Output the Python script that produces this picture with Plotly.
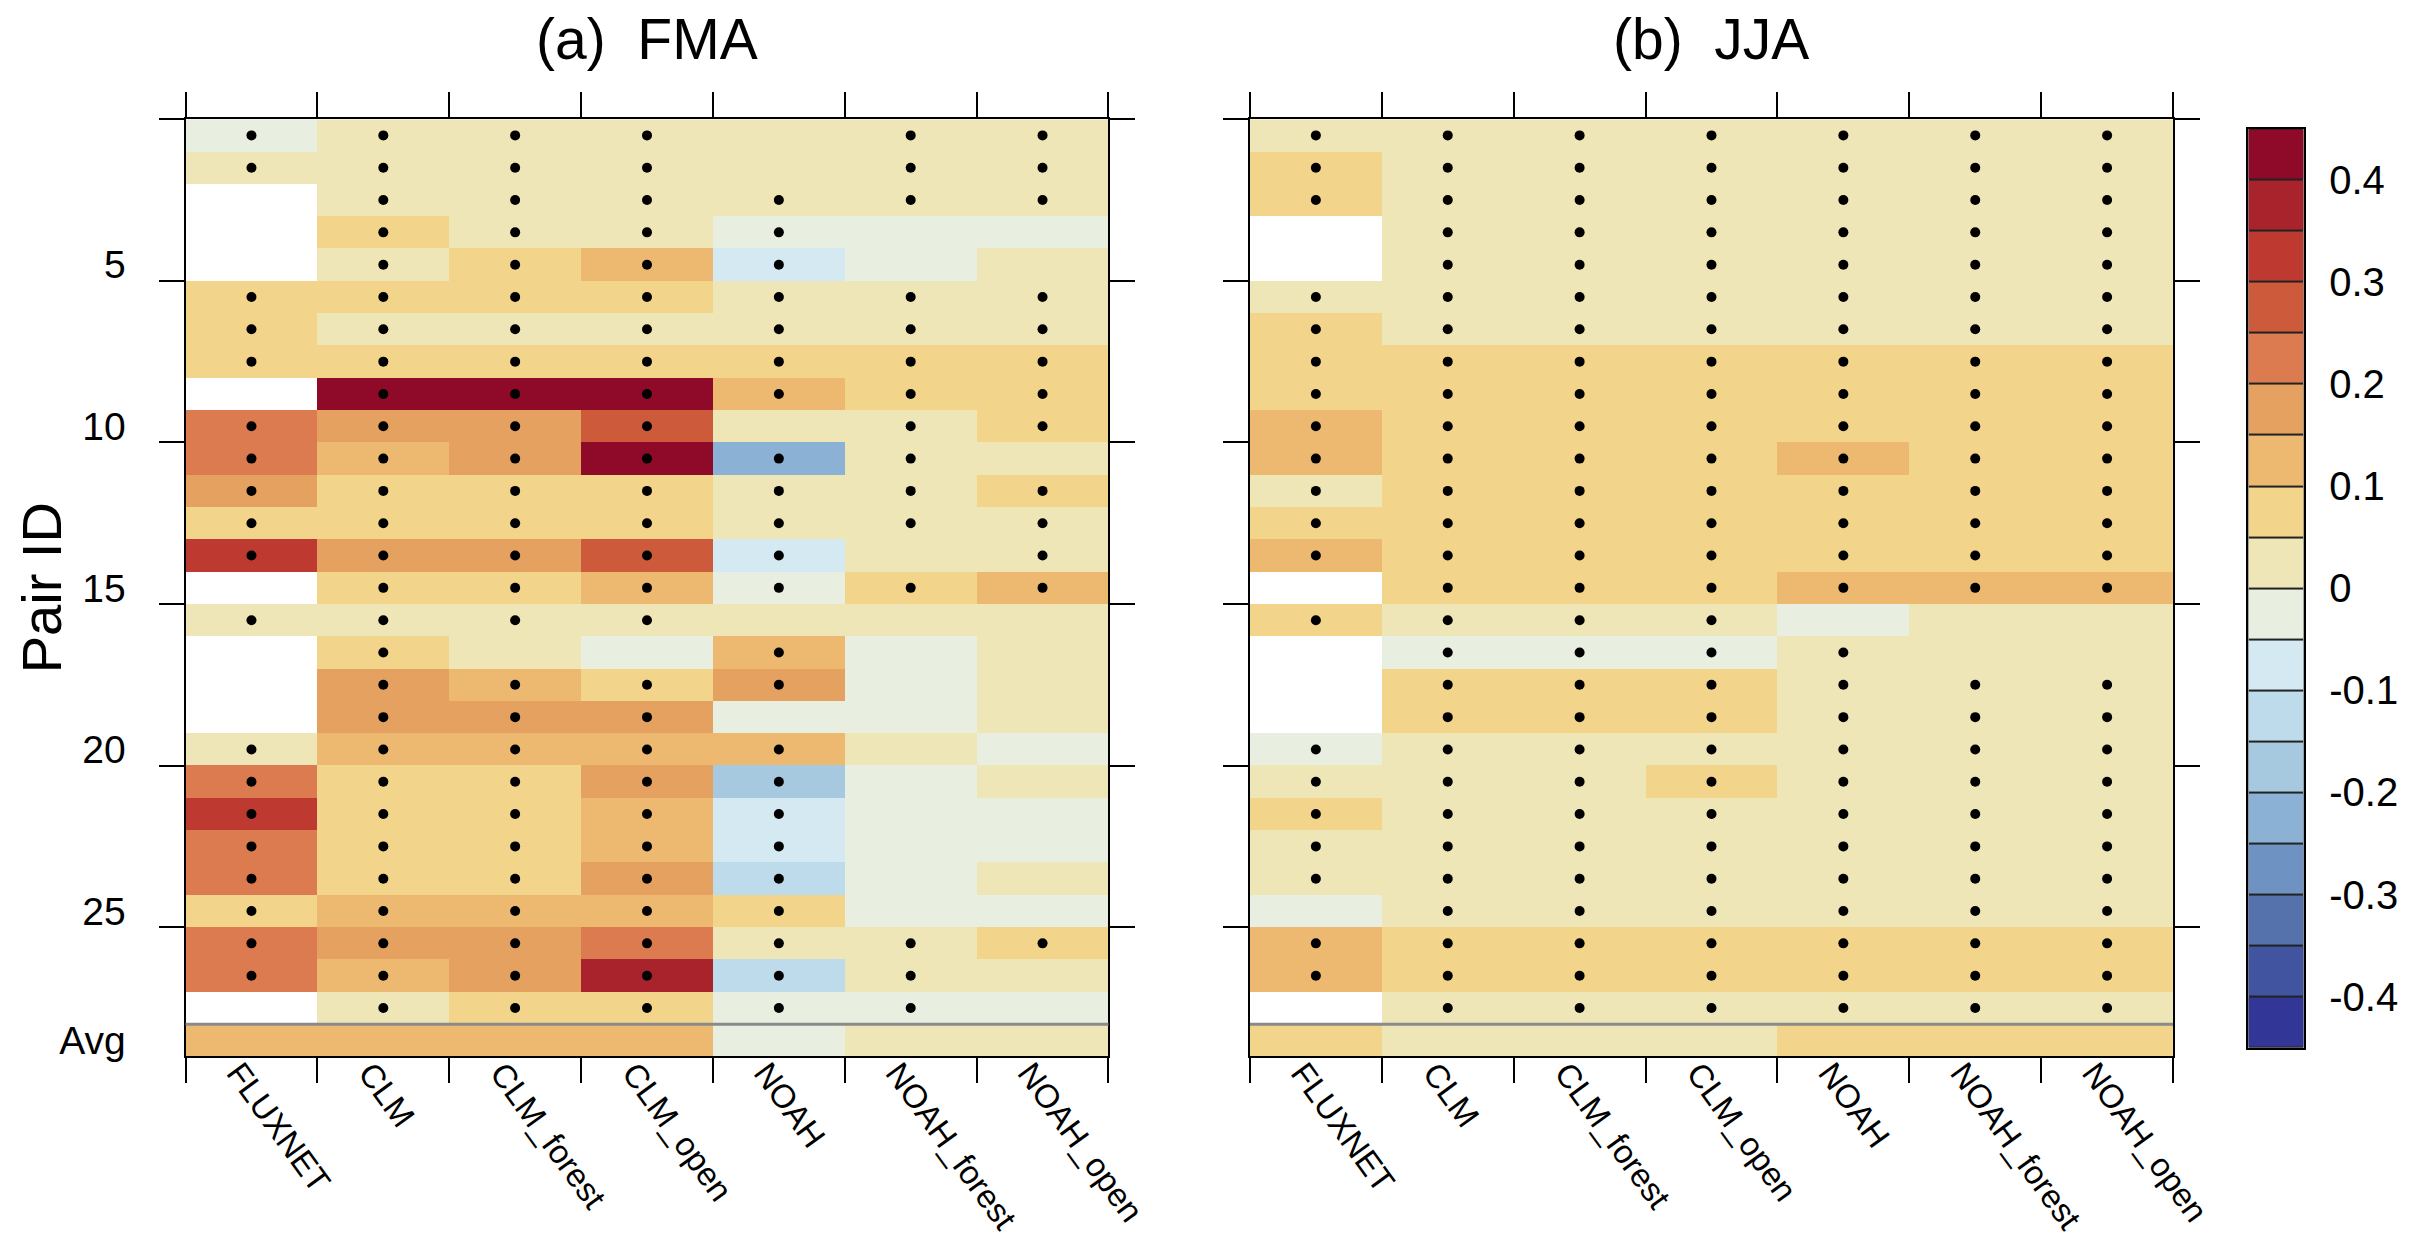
import plotly.graph_objects as go

# ---------------- data ----------------
ROW_LABELS = [str(i) for i in range(1, 29)] + ["Avg"]
MODELS = ["FLUXNET", "CLM", "CLM_forest", "CLM_open", "NOAH", "NOAH_forest", "NOAH_open"]
Y_TICK_ROWS = [5, 10, 15, 20, 25, 29]
Y_TICK_TEXT = ["5", "10", "15", "20", "25", "Avg"]
PANEL_TITLES = ["(a)  FMA", "(b)  JJA"]

# FMA values (rows 1..28, Avg); None = missing
FMA_FLUXNET = [-0.02, 0.03, None, None, None, 0.08, 0.07, 0.08, None, 0.22, 0.23, 0.18, 0.08, 0.33, None, 0.03, None, None, None, 0.04, 0.23, 0.32, 0.22, 0.23, 0.07, 0.22, 0.24, None, 0.13]
FMA_CLM = [0.03, 0.02, 0.03, 0.07, 0.04, 0.08, 0.03, 0.08, 0.44, 0.17, 0.13, 0.08, 0.07, 0.18, 0.08, 0.03, 0.07, 0.18, 0.17, 0.13, 0.08, 0.07, 0.08, 0.08, 0.12, 0.18, 0.13, 0.04, 0.13]
FMA_CLM_FOREST = [0.03, 0.02, 0.03, 0.02, 0.08, 0.07, 0.03, 0.08, 0.43, 0.18, 0.17, 0.08, 0.07, 0.18, 0.08, 0.03, 0.02, 0.13, 0.18, 0.12, 0.08, 0.07, 0.07, 0.08, 0.13, 0.17, 0.18, 0.07, 0.13]
FMA_CLM_OPEN = [0.03, 0.02, 0.03, 0.02, 0.13, 0.08, 0.03, 0.08, 0.44, 0.28, 0.43, 0.08, 0.07, 0.27, 0.12, 0.03, -0.01, 0.08, 0.18, 0.13, 0.18, 0.13, 0.12, 0.17, 0.13, 0.23, 0.38, 0.08, 0.14]
FMA_NOAH = [0.02, 0.01, 0.02, -0.02, -0.06, 0.03, 0.02, 0.07, 0.12, 0.03, -0.22, 0.02, 0.03, -0.07, -0.02, 0.02, 0.14, 0.17, -0.02, 0.12, -0.17, -0.08, -0.07, -0.12, 0.08, 0.03, -0.11, -0.02, -0.01]
FMA_NOAH_FOREST = [0.02, 0.02, 0.02, -0.01, -0.02, 0.02, 0.03, 0.07, 0.07, 0.03, 0.02, 0.03, 0.02, 0.03, 0.08, 0.02, -0.01, -0.02, -0.02, 0.02, -0.02, -0.02, -0.01, -0.02, -0.02, 0.03, 0.02, -0.02, 0.01]
FMA_NOAH_OPEN = [0.02, 0.02, 0.02, -0.01, 0.02, 0.02, 0.03, 0.08, 0.07, 0.06, 0.03, 0.07, 0.03, 0.02, 0.12, 0.02, 0.02, 0.03, 0.02, -0.02, 0.02, -0.01, -0.02, 0.02, -0.01, 0.07, 0.03, -0.02, 0.02]

# JJA values
JJA_FLUXNET = [0.03, 0.08, 0.07, None, None, 0.03, 0.07, 0.08, 0.07, 0.12, 0.13, 0.04, 0.08, 0.12, None, 0.07, None, None, None, -0.01, 0.03, 0.07, 0.03, 0.03, -0.01, 0.12, 0.13, None, 0.07]
JJA_CLM = [0.03, 0.02, 0.03, 0.02, 0.03, 0.03, 0.04, 0.07, 0.08, 0.08, 0.07, 0.08, 0.08, 0.07, 0.08, 0.02, -0.02, 0.07, 0.08, 0.03, 0.03, 0.02, 0.03, 0.03, 0.02, 0.08, 0.07, 0.03, 0.04]
JJA_CLM_FOREST = [0.02, 0.03, 0.02, 0.03, 0.02, 0.03, 0.03, 0.08, 0.07, 0.08, 0.08, 0.07, 0.08, 0.08, 0.07, 0.03, -0.01, 0.08, 0.07, 0.02, 0.03, 0.03, 0.02, 0.03, 0.03, 0.07, 0.08, 0.02, 0.03]
JJA_CLM_OPEN = [0.03, 0.02, 0.03, 0.03, 0.02, 0.02, 0.03, 0.07, 0.08, 0.07, 0.08, 0.08, 0.07, 0.08, 0.08, 0.02, -0.02, 0.07, 0.08, 0.03, 0.06, 0.03, 0.02, 0.03, 0.02, 0.08, 0.07, 0.03, 0.04]
JJA_NOAH = [0.02, 0.03, 0.02, 0.03, 0.03, 0.02, 0.03, 0.08, 0.07, 0.08, 0.13, 0.07, 0.08, 0.07, 0.12, -0.01, 0.03, 0.02, 0.03, 0.02, 0.03, 0.02, 0.02, 0.03, 0.03, 0.08, 0.07, 0.02, 0.06]
JJA_NOAH_FOREST = [0.03, 0.02, 0.03, 0.02, 0.03, 0.02, 0.03, 0.07, 0.08, 0.07, 0.08, 0.07, 0.08, 0.08, 0.13, 0.02, 0.03, 0.02, 0.02, 0.03, 0.02, 0.03, 0.03, 0.02, 0.02, 0.07, 0.08, 0.03, 0.06]
JJA_NOAH_OPEN = [0.02, 0.03, 0.02, 0.03, 0.02, 0.03, 0.02, 0.08, 0.07, 0.08, 0.07, 0.08, 0.07, 0.07, 0.12, 0.03, 0.02, 0.03, 0.02, 0.02, 0.03, 0.02, 0.03, 0.03, 0.02, 0.08, 0.07, 0.02, 0.07]

# significance dots (1 = dot)
FMA_DOT_FLUXNET = [1, 1, 0, 0, 0, 1, 1, 1, 0, 1, 1, 1, 1, 1, 0, 1, 0, 0, 0, 1, 1, 1, 1, 1, 1, 1, 1, 0, 0]
FMA_DOT_CLM = [1, 1, 1, 1, 1, 1, 1, 1, 1, 1, 1, 1, 1, 1, 1, 1, 1, 1, 1, 1, 1, 1, 1, 1, 1, 1, 1, 1, 0]
FMA_DOT_CLM_FOREST = [1, 1, 1, 1, 1, 1, 1, 1, 1, 1, 1, 1, 1, 1, 1, 1, 0, 1, 1, 1, 1, 1, 1, 1, 1, 1, 1, 1, 0]
FMA_DOT_CLM_OPEN = [1, 1, 1, 1, 1, 1, 1, 1, 1, 1, 1, 1, 1, 1, 1, 1, 0, 1, 1, 1, 1, 1, 1, 1, 1, 1, 1, 1, 0]
FMA_DOT_NOAH = [0, 0, 1, 1, 1, 1, 1, 1, 1, 0, 1, 1, 1, 1, 1, 0, 1, 1, 0, 1, 1, 1, 1, 1, 1, 1, 1, 1, 0]
FMA_DOT_NOAH_FOREST = [1, 1, 1, 0, 0, 1, 1, 1, 1, 1, 1, 1, 1, 0, 1, 0, 0, 0, 0, 0, 0, 0, 0, 0, 0, 1, 1, 1, 0]
FMA_DOT_NOAH_OPEN = [1, 1, 1, 0, 0, 1, 1, 1, 1, 1, 0, 1, 1, 1, 1, 0, 0, 0, 0, 0, 0, 0, 0, 0, 0, 1, 0, 0, 0]

JJA_DOT_FLUXNET = [1, 1, 1, 0, 0, 1, 1, 1, 1, 1, 1, 1, 1, 1, 0, 1, 0, 0, 0, 1, 1, 1, 1, 1, 0, 1, 1, 0, 0]
JJA_DOT_CLM = [1, 1, 1, 1, 1, 1, 1, 1, 1, 1, 1, 1, 1, 1, 1, 1, 1, 1, 1, 1, 1, 1, 1, 1, 1, 1, 1, 1, 0]
JJA_DOT_CLM_FOREST = [1, 1, 1, 1, 1, 1, 1, 1, 1, 1, 1, 1, 1, 1, 1, 1, 1, 1, 1, 1, 1, 1, 1, 1, 1, 1, 1, 1, 0]
JJA_DOT_CLM_OPEN = [1, 1, 1, 1, 1, 1, 1, 1, 1, 1, 1, 1, 1, 1, 1, 1, 1, 1, 1, 1, 1, 1, 1, 1, 1, 1, 1, 1, 0]
JJA_DOT_NOAH = [1, 1, 1, 1, 1, 1, 1, 1, 1, 1, 1, 1, 1, 1, 1, 0, 1, 1, 1, 1, 1, 1, 1, 1, 1, 1, 1, 1, 0]
JJA_DOT_NOAH_FOREST = [1, 1, 1, 1, 1, 1, 1, 1, 1, 1, 1, 1, 1, 1, 1, 0, 0, 1, 1, 1, 1, 1, 1, 1, 1, 1, 1, 1, 0]
JJA_DOT_NOAH_OPEN = [1, 1, 1, 1, 1, 1, 1, 1, 1, 1, 1, 1, 1, 1, 1, 0, 0, 1, 1, 1, 1, 1, 1, 1, 1, 1, 1, 1, 0]

# discrete colour levels from -0.45 to 0.45, step 0.05 (lowest first)
LEVEL_COLORS = ["#323696", "#4154A0", "#5572AD", "#6E93C2", "#8BB1D5", "#A7C9DF", "#BEDBEC", "#D5E9F2", "#E8EEE0",
                "#EFE6B7", "#F2D48B", "#EDB970", "#E5A160", "#DC7B4F", "#CE5A3C", "#BE3A30", "#A8232C", "#8F0929"]
LEVEL_MIN, LEVEL_MAX = -0.45, 0.45
CBAR_TICKS = [-0.4, -0.3, -0.2, -0.1, 0.0, 0.1, 0.2, 0.3, 0.4]
CBAR_TEXT = ["-0.4", "-0.3", "-0.2", "-0.1", "0", "0.1", "0.2", "0.3", "0.4"]

FMA_COLS = [FMA_FLUXNET, FMA_CLM, FMA_CLM_FOREST, FMA_CLM_OPEN, FMA_NOAH, FMA_NOAH_FOREST, FMA_NOAH_OPEN]
JJA_COLS = [JJA_FLUXNET, JJA_CLM, JJA_CLM_FOREST, JJA_CLM_OPEN, JJA_NOAH, JJA_NOAH_FOREST, JJA_NOAH_OPEN]
FMA_DOTS = [FMA_DOT_FLUXNET, FMA_DOT_CLM, FMA_DOT_CLM_FOREST, FMA_DOT_CLM_OPEN, FMA_DOT_NOAH, FMA_DOT_NOAH_FOREST, FMA_DOT_NOAH_OPEN]
JJA_DOTS = [JJA_DOT_FLUXNET, JJA_DOT_CLM, JJA_DOT_CLM_FOREST, JJA_DOT_CLM_OPEN, JJA_DOT_NOAH, JJA_DOT_NOAH_FOREST, JJA_DOT_NOAH_OPEN]

# ---------------- layout geometry (pixels) ----------------
W, H = 2424, 1242
FONT = "Liberation Sans, Arial, Helvetica, sans-serif"
PANEL_X = [(180.6, 1119.4), (1263.3, 2202.3)]
PANEL_TOP, PANEL_BOTTOM = 111.7, 1052.7
CBAR_X = (2279, 2335)
CBAR_Y = (121, 1044)


def fx(p):
    return p / W


def fy(p):
    return 1 - p / H


nlev = len(LEVEL_COLORS)
step = (LEVEL_MAX - LEVEL_MIN) / nlev
colorscale = []
for i, c in enumerate(LEVEL_COLORS):
    colorscale.append([i / nlev, c])
    colorscale.append([(i + 1) / nlev, c])

n_rows = len(ROW_LABELS)
n_cols = len(MODELS)
x_idx = list(range(1, n_cols + 1))
y_idx = list(range(1, n_rows + 1))

fig = go.Figure()

for p, (cols, dots) in enumerate([(FMA_COLS, FMA_DOTS), (JJA_COLS, JJA_DOTS)]):
    xa = "x" if p == 0 else "x2"
    ya = "y" if p == 0 else "y2"
    z = [[cols[c][r] for c in range(n_cols)] for r in range(n_rows)]
    fig.add_trace(go.Heatmap(x=x_idx, y=y_idx, z=z, coloraxis="coloraxis", xaxis=xa, yaxis=ya,
                             hoverongaps=False))
    dx, dy = [], []
    for c in range(n_cols):
        for r in range(n_rows):
            if dots[c][r]:
                dx.append(x_idx[c])
                dy.append(y_idx[r])
    fig.add_trace(go.Scatter(x=dx, y=dy, mode="markers", xaxis=xa, yaxis=ya,
                             marker=dict(color="black", size=10), hoverinfo="skip"))

# label bar (one box per colour level, thin black separators)
lev_centres = [LEVEL_MIN + step * (i + 0.5) for i in range(nlev)]
fig.add_trace(go.Heatmap(x=[0], y=lev_centres, z=[[v] for v in lev_centres], coloraxis="coloraxis",
                         xaxis="x3", yaxis="y3", ygap=2, hoverinfo="skip"))
fig.add_shape(type="rect", xref="x3 domain", yref="y3 domain", x0=0, x1=1, y0=0, y1=1,
              fillcolor="#222222", line=dict(width=0), layer="below")

x_bounds = [i + 0.5 for i in range(0, n_cols + 1)]
y_bounds = [0.5] + [v + 0.5 for v in Y_TICK_ROWS[:-1]]
avg_sep = n_rows - 0.5

for p in range(2):
    sfx = "" if p == 0 else "2"
    x0, x1 = PANEL_X[p]
    fig.layout["xaxis" + sfx] = dict(
        domain=[fx(x0), fx(x1)], range=[0.5, n_cols + 0.5], anchor="y" + sfx,
        tickmode="array", tickvals=x_idx, ticktext=MODELS, tickangle=54,
        ticks="outside", ticklen=2, tickcolor="rgba(0,0,0,0)",
        ticklabelstandoff=-20, ticklabelshift=-13,
        tickfont=dict(size=33, family=FONT, color="black"),
        showline=True, linecolor="black", linewidth=2, mirror="ticks",
        showgrid=False, zeroline=False, fixedrange=True,
        minor=dict(tickmode="array", tickvals=x_bounds, ticks="outside", ticklen=25,
                   tickwidth=2, tickcolor="black", showgrid=False),
    )
    fig.layout["yaxis" + sfx] = dict(
        domain=[fy(PANEL_BOTTOM), fy(PANEL_TOP)], range=[n_rows + 0.5, 0.5], anchor="x" + sfx,
        tickmode="array", tickvals=Y_TICK_ROWS, ticktext=Y_TICK_TEXT, showticklabels=(p == 0),
        ticks="outside", ticklen=50, tickcolor="rgba(0,0,0,0)",
        tickfont=dict(size=39, family=FONT, color="black"),
        showline=True, linecolor="black", linewidth=2, mirror="ticks",
        showgrid=False, zeroline=False, fixedrange=True,
        minor=dict(tickmode="array", tickvals=y_bounds, ticks="outside", ticklen=25,
                   tickwidth=2, tickcolor="black", showgrid=False),
    )
    # grey separator between pairs and the average row
    fig.add_shape(type="line", xref=f"x{sfx} domain", x0=0, x1=1, yref="y" + sfx, y0=avg_sep, y1=avg_sep,
                  line=dict(color="#8a8a8a", width=3), layer="above")
    fig.add_annotation(text=PANEL_TITLES[p], xref="paper", yref="paper", x=fx((x0 + x1) / 2), y=fy(31),
                       xanchor="center", yanchor="middle", showarrow=False,
                       font=dict(size=57, family=FONT, color="black"))

fig.layout["xaxis3"] = dict(
    domain=[fx(CBAR_X[0]), fx(CBAR_X[1])], range=[-0.5, 0.5], anchor="y3",
    showticklabels=False, ticks="", showgrid=False, zeroline=False, fixedrange=True,
    showline=True, linecolor="black", linewidth=1.5, mirror=True,
)
fig.layout["yaxis3"] = dict(
    domain=[fy(CBAR_Y[1]), fy(CBAR_Y[0])], range=[LEVEL_MIN, LEVEL_MAX], anchor="x3", side="right",
    tickmode="array", tickvals=CBAR_TICKS, ticktext=CBAR_TEXT,
    ticks="outside", ticklen=16, tickcolor="rgba(0,0,0,0)",
    tickfont=dict(size=40, family=FONT, color="black"),
    showgrid=False, zeroline=False, fixedrange=True,
    showline=True, linecolor="black", linewidth=1.5, mirror=True,
)

fig.add_annotation(text="Pair ID", xref="paper", yref="paper", x=fx(34), y=fy((PANEL_TOP + PANEL_BOTTOM) / 2),
                   textangle=-90, xanchor="center", yanchor="middle", showarrow=False,
                   font=dict(size=56, family=FONT, color="black"))

fig.update_layout(
    width=W, height=H, margin=dict(l=0, r=0, t=0, b=0),
    paper_bgcolor="white", plot_bgcolor="white", showlegend=False,
    font=dict(family=FONT, color="black"),
    coloraxis=dict(colorscale=colorscale, cmin=LEVEL_MIN, cmax=LEVEL_MAX, showscale=False),
)

fig.write_html("out.html")
